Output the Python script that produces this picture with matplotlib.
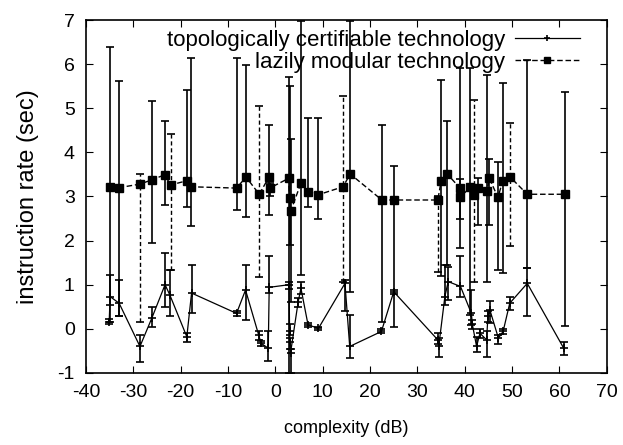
import numpy as np
import matplotlib
matplotlib.use("Agg")
import matplotlib.pyplot as plt

plt.rcParams['font.family'] = ['Liberation Sans', 'DejaVu Sans']
plt.rcParams['axes.unicode_minus'] = False

# topologically certifiable technology (lower series)
topo_x = [-35.1, -34.9, -33.0, -28.6, -26.1, -23.3, -22.3, -18.7, -17.7, -8.2, -6.3,
          -3.5, -3.0, -1.5, -1.3, 2.9, 3.0, 3.1, 3.2, 4.8, 5.4, 6.9, 9.1, 14.7, 15.7,
          22.4, 25.0, 34.3, 34.5, 35.8, 36.5, 39.1, 41.4, 41.6, 42.5, 43.2, 44.6,
          44.9, 45.3, 47.1, 48.1, 49.5, 53.2, 60.9]
topo_y = [0.15, 0.73, 0.58, -0.40, 0.24, 1.00, 0.77, -0.18, 0.81, 0.35, 0.88,
          -0.15, -0.33, -0.44, 0.94, 1.00, -0.05, -0.30, -0.55, 0.60, 0.92, 0.09, 0.01, 1.03, -0.40,
          -0.06, 0.84, -0.25, -0.40, 0.73, 1.07, 0.96, 0.35, 0.10, -0.40, -0.10, -0.25,
          0.28, 0.43, -0.21, -0.06, 0.58, 1.03, -0.44]
topo_lo = [0.10, 0.55, 0.28, -0.76, 0.05, 0.50, 0.28, -0.29, 0.35, 0.30, 0.20,
           -0.25, -0.40, -0.74, 0.81, 0.90, -0.15, -0.45, -1.00, 0.50, 0.78, 0.05, -0.03, 0.40, -0.67,
           -0.10, 0.80, -0.35, -0.63, 0.54, 0.66, 0.73, 0.09, 0.00, -0.52, -0.20, -0.64,
           0.15, 0.13, -0.35, -0.12, 0.43, 0.28, -0.60]
topo_hi = [0.22, 1.22, 1.11, -0.14, 0.50, 1.71, 1.34, -0.09, 1.45, 0.40, 1.45,
           -0.05, -0.28, -0.06, 1.64, 1.05, 0.10, -0.20, -0.45, 0.70, 1.05, 0.14, 0.05, 1.10, 0.31,
           0.00, 0.88, -0.10, -0.20, 1.45, 1.41, 1.64, 0.88, 0.20, -0.18, 0.00, -0.04,
           0.40, 0.62, -0.13, 0.00, 0.73, 1.37, -0.30]

# lazily modular technology (upper series)
lazy_x = [-34.9, -33.0, -28.6, -26.0, -23.4, -22.1, -18.6, -17.9, -8.2, -6.2, -3.4,
          -1.4, -1.2, 2.8, 3.0, 3.2, 5.4, 6.8, 9.1, 14.3, 15.8, 22.5, 25.0, 34.3,
          35.0, 36.3, 38.9, 39.1, 41.2, 42.0, 42.8, 44.7, 45.2, 47.0, 48.0, 49.5, 53.2, 61.1]
lazy_y = [3.22, 3.20, 3.28, 3.38, 3.49, 3.26, 3.36, 3.22, 3.19, 3.44, 3.05,
          3.43, 3.19, 3.41, 2.96, 2.66, 3.30, 3.11, 3.04, 3.22, 3.51, 2.92, 2.92, 2.92,
          3.34, 3.51, 3.20, 2.98, 3.22, 3.04, 3.19, 3.13, 3.41, 2.98, 3.34, 3.45, 3.05, 3.05]
lazy_lo = [0.15, 0.28, 0.16, 1.94, 2.81, 1.34, 2.77, 2.32, 2.70, 2.54, 1.18,
           2.58, 3.00, -1.00, 1.90, 0.60, 1.22, 2.77, 2.50, 1.07, 0.84, 0.16, 0.05, 1.28,
           1.20, 1.45, 1.83, 2.50, 0.31, 1.07, 2.36, 1.07, 2.36, 1.34, 1.26, 1.87, 1.37, 0.07]
lazy_hi = [6.39, 5.61, 3.51, 5.17, 4.70, 4.41, 5.42, 6.14, 6.14, 5.98, 5.04,
           4.62, 3.30, 5.70, 5.50, 4.30, 6.97, 4.77, 4.77, 5.27, 6.97, 4.62, 3.68, 3.00,
           5.64, 4.70, 5.91, 3.40, 5.91, 5.19, 3.42, 5.76, 3.86, 3.79, 5.57, 4.66, 6.10, 5.36]
lazy_dashed = [False, False, True, False, False, True, False, False, False, False, True,
               False, False, False, False, False, False, False, False, True, False, False, False, True,
               False, False, False, False, False, True, False, False, False, False, False, True, False, False]

fig = plt.figure(figsize=(6.23, 4.45), dpi=100)
ax = fig.add_axes([0.138, 0.162, 0.836, 0.793])

cap = 6
# error bars
ax.vlines(topo_x, topo_lo, topo_hi, color='k', lw=1.2)
ax.plot(topo_x, topo_lo, '_', color='k', ms=cap, mew=1.2)
ax.plot(topo_x, topo_hi, '_', color='k', ms=cap, mew=1.2)

lx = np.array(lazy_x)
llo = np.array(lazy_lo)
lhi = np.array(lazy_hi)
dmask = np.array(lazy_dashed)
ax.vlines(lx[~dmask], llo[~dmask], lhi[~dmask], color='k', lw=1.2)
ax.vlines(lx[dmask], llo[dmask], lhi[dmask], color='k', lw=1.0, linestyles=(0, (3, 2)))
ax.plot(lazy_x, lazy_lo, '_', color='k', ms=cap, mew=1.2)
ax.plot(lazy_x, lazy_hi, '_', color='k', ms=cap, mew=1.2)

# lines
ax.plot(topo_x, topo_y, '-', color='k', lw=0.9, marker='+', ms=6, mew=1.2,
        label='topologically certifiable technology')
ax.plot(lazy_x, lazy_y, color='k', lw=1.0, ls=(0, (4, 2)), marker='s', ms=6,
        label='lazily modular technology')

ax.set_xlim(-40, 70)
ax.set_ylim(-1, 7)
ax.set_xticks(np.arange(-40, 71, 10))
ax.set_yticks(np.arange(-1, 8, 1))
ax.tick_params(direction='in', top=True, right=True, length=5, labelsize=14, pad=8)
for s in ax.spines.values():
    s.set_linewidth(1.2)

ax.set_xlabel('complexity (dB)', fontsize=13, labelpad=14)
ax.set_ylabel('instruction rate (sec)', fontsize=17, labelpad=13)

leg = ax.legend(loc='upper right', bbox_to_anchor=(0.948, 0.972), frameon=False,
                markerfirst=False, fontsize=16, handlelength=2.9, handletextpad=0.45,
                labelspacing=0.05, borderaxespad=0, borderpad=0)
for h in leg.legend_handles:
    h.set_markersize(4)

fig.savefig('out.png', dpi=100)
